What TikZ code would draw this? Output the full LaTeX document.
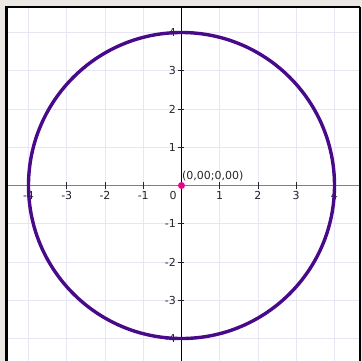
\documentclass[tikz,border=0pt]{standalone}
\usepackage{fontspec}
\setmainfont{DejaVu Sans}
\usetikzlibrary{positioning}
\definecolor{winbg}{HTML}{ECE9E4}
\definecolor{gridline}{HTML}{E9E5F4}
\definecolor{axisgray}{HTML}{808080}
\definecolor{curve}{HTML}{480A88}
\definecolor{ticktext}{HTML}{262626}
\begin{document}
\begin{tikzpicture}[x=38.25pt,y=38.25pt,font=\fontsize{11}{13}\selectfont,
tick/.style={draw=ticktext,line width=.8pt},
ticklabel/.style={text=ticktext,inner sep=0pt},
dot/.style={circle,fill=magenta,inner sep=0pt,minimum size=7pt}]
\useasboundingbox (-4.745,-4.588) rectangle (4.719,4.850);
\fill[winbg] (-4.745,-4.588) rectangle (4.719,4.850);
\fill[white] (-4.575,-4.588) rectangle (4.667,4.667);
% grid
\foreach \k in {-4,...,4} {
  \draw[gridline,line width=.8pt] (\k,-4.588) -- (\k,4.667);
  \draw[gridline,line width=.8pt] (-4.575,\k) -- (4.667,\k);
}
% axes
\draw[axisgray,line width=1.2pt] (-4.575,0) -- (4.667,0);
\draw[black,line width=.8pt] (0,-4.588) -- (0,4.667);
\foreach \k in {-4,...,-1,1,2,3,4} {
  \draw[tick] (\k,-.08) -- (\k,.08);
  \draw[tick] (-.1,\k) -- (.07,\k);
  \node[ticklabel,anchor=north] (xl\k) at (\k,-.145) {\k};
  \node[ticklabel,anchor=east] (yl\k) at (-.145,\k) {\k};
}
\node[ticklabel,anchor=north east] (xl0) at (-.12,-.145) {0};
% frame
\draw[black,line width=2.5pt] (-4.575,-4.588) -- (-4.575,4.667) -- (4.667,4.667);
\draw[black,line width=1.5pt] (4.667,4.667) -- (4.667,-4.588);
% curve
\draw[curve,line width=3.4pt] (0,0) circle (4);
\node[dot] (orig) at (0,0) {};
\node[ticklabel,anchor=base west] (coord) at (.013,.17) {(0,00;0,00)};
\end{tikzpicture}
\end{document}
